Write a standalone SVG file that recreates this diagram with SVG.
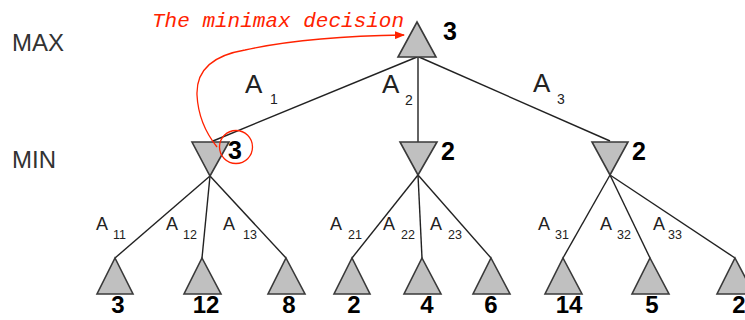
<svg xmlns="http://www.w3.org/2000/svg" width="745" height="320" viewBox="0 0 745 320">
<defs>
<style>
.tri{fill:#c0c0c0;stroke:#3a3a3a;stroke-width:1.6;stroke-linejoin:miter}
.edge{stroke:#222;stroke-width:1.4;fill:none}
.lvl{font-family:"Liberation Sans",Arial,sans-serif;font-size:24px;fill:#333}
.val{font-family:"Liberation Sans",Arial,sans-serif;font-size:25px;font-weight:bold;fill:#000}
.leafval{font-family:"Liberation Sans",Arial,sans-serif;font-size:24px;font-weight:bold;fill:#000;text-anchor:middle}
.a1{font-family:"Liberation Sans",Arial,sans-serif;font-size:26px;fill:#222}
.s1{font-family:"Liberation Sans",Arial,sans-serif;font-size:14px;fill:#222}
.a2{font-family:"Liberation Sans",Arial,sans-serif;font-size:18px;fill:#222}
.s2{font-family:"Liberation Sans",Arial,sans-serif;font-size:12.5px;fill:#222}
.red{stroke:#ff2200;stroke-width:1.3;fill:none}
.note{font-family:"Liberation Mono","Courier New",monospace;font-style:italic;font-size:21px;fill:#ff2200}
</style>
<marker id="arr" markerWidth="10" markerHeight="8" refX="9" refY="4" orient="auto" markerUnits="userSpaceOnUse">
<path d="M0,0 L10,4 L0,8 Z" fill="#ff2200"/>
</marker>
</defs>
<rect width="745" height="320" fill="#fff"/>

<text class="lvl" x="12" y="51">MAX</text>
<text class="lvl" x="12" y="168">MIN</text>

<g id="connectors">
<line class="edge" x1="417" y1="57" x2="213" y2="141"/>
<line class="edge" x1="418" y1="57" x2="418" y2="142"/>
<line class="edge" x1="419" y1="57" x2="610" y2="141"/>
<line class="edge" x1="210" y1="176" x2="115" y2="258"/>
<line class="edge" x1="210" y1="176" x2="202" y2="258"/>
<line class="edge" x1="210" y1="176" x2="286" y2="258"/>
<line class="edge" x1="418" y1="175" x2="352" y2="258"/>
<line class="edge" x1="418" y1="175" x2="422" y2="258"/>
<line class="edge" x1="418" y1="175" x2="491" y2="258"/>
<line class="edge" x1="610" y1="175" x2="563" y2="258"/>
<line class="edge" x1="610" y1="175" x2="650" y2="258"/>
<line class="edge" x1="610" y1="175" x2="735" y2="258"/>
<text class="a1" x="245" y="93">A</text><text class="s1" x="270" y="104">1</text>
<text class="a1" x="382" y="93">A</text><text class="s1" x="405" y="105">2</text>
<text class="a1" x="533" y="92">A</text><text class="s1" x="557" y="104">3</text>
<text class="a2" x="96" y="230">A</text><text class="s2" x="113" y="239">11</text>
<text class="a2" x="166" y="230">A</text><text class="s2" x="183" y="239">12</text>
<text class="a2" x="223" y="230">A</text><text class="s2" x="243" y="239">13</text>
<text class="a2" x="330" y="230">A</text><text class="s2" x="348" y="239">21</text>
<text class="a2" x="383" y="230">A</text><text class="s2" x="401" y="239">22</text>
<text class="a2" x="430" y="230">A</text><text class="s2" x="448" y="239">23</text>
<text class="a2" x="538" y="230">A</text><text class="s2" x="555" y="239">31</text>
<text class="a2" x="600" y="230">A</text><text class="s2" x="617" y="239">32</text>
<text class="a2" x="653" y="230">A</text><text class="s2" x="668" y="239">33</text>
</g>

<g id="root"><polygon class="tri" points="417,22 436,57 398,57"/><text class="val" x="443" y="40">3</text></g>
<g id="min1"><polygon class="tri" points="192,142 229,142 210,176"/><text class="val" x="228" y="159">3</text></g>
<g id="min2"><polygon class="tri" points="400,142 437,142 418,175"/><text class="val" x="441" y="160">2</text></g>
<g id="min3"><polygon class="tri" points="592,142 628,142 610,175"/><text class="val" x="632" y="160">2</text></g>

<g id="leaf1"><polygon class="tri" points="115,258 133,294 97,294"/><text class="leafval" x="118" y="313">3</text></g>
<g id="leaf2"><polygon class="tri" points="202,258 221,294 184,294"/><text class="leafval" x="206" y="313">12</text></g>
<g id="leaf3"><polygon class="tri" points="286,258 305,294 268,294"/><text class="leafval" x="289" y="313">8</text></g>
<g id="leaf4"><polygon class="tri" points="352,258 370,294 334,294"/><text class="leafval" x="354" y="313">2</text></g>
<g id="leaf5"><polygon class="tri" points="422,258 441,294 404,294"/><text class="leafval" x="427" y="313">4</text></g>
<g id="leaf6"><polygon class="tri" points="491,258 510,294 473,294"/><text class="leafval" x="491" y="313">6</text></g>
<g id="leaf7"><polygon class="tri" points="563,258 582,294 545,294"/><text class="leafval" x="569" y="313">14</text></g>
<g id="leaf8"><polygon class="tri" points="650,258 669,294 632,294"/><text class="leafval" x="652" y="313">5</text></g>
<g id="leaf9"><polygon class="tri" points="735,258 754,294 717,294"/><text class="leafval" x="739" y="313">2</text></g>

<g id="annotation">
<text class="note" x="152" y="27">The minimax decision</text>
<path class="red" d="M217,147 C205,132 198,115 197,95 C196,68 215,55 245,50 C290,40 340,36 404,35" marker-end="url(#arr)"/>
<circle class="red" cx="236" cy="147" r="16.5"/>
</g>
</svg>
